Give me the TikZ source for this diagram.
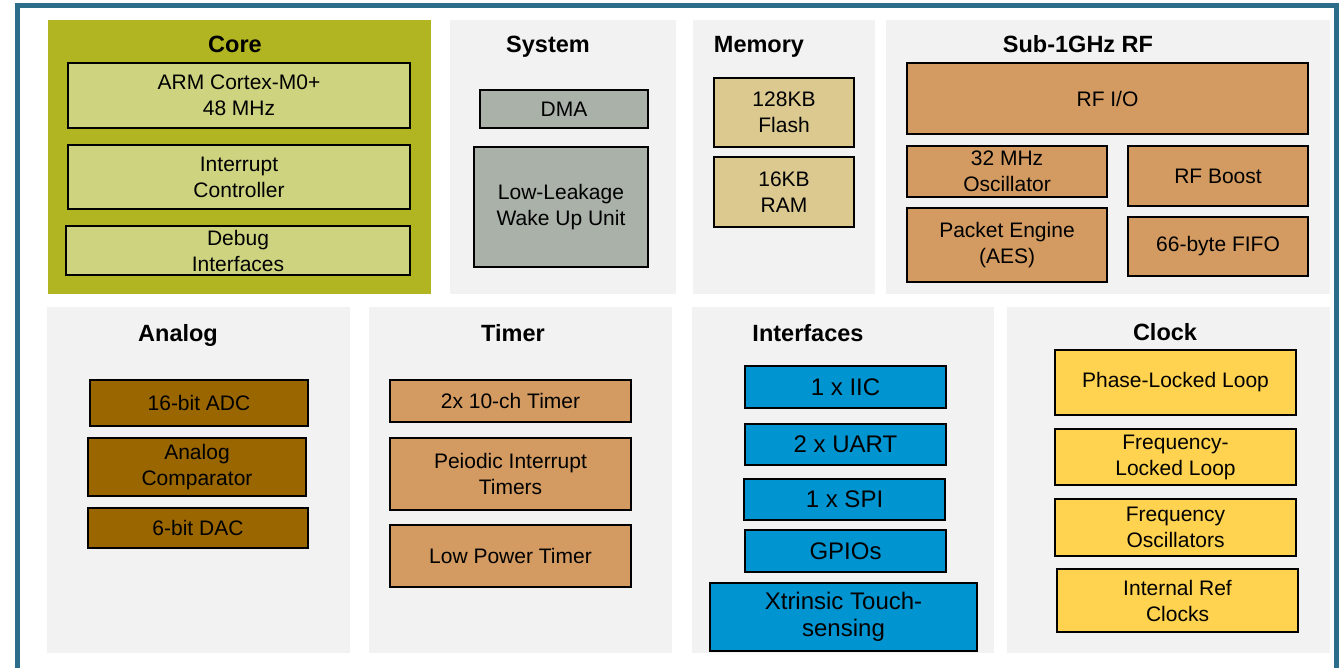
\documentclass[tikz,border=0pt]{standalone}
\usepackage{fontspec}
\setmainfont{Liberation Sans}
\usepackage{xcolor}
\usepackage{tikz}
\usetikzlibrary{positioning}
\definecolor{frameblue}{HTML}{2C6E89}
\definecolor{panelgray}{HTML}{F2F2F2}
\definecolor{coreolive}{HTML}{B1B521}
\definecolor{corelight}{HTML}{CDD37F}
\definecolor{sysgray}{HTML}{A9B1A9}
\definecolor{memtan}{HTML}{DBC98F}
\definecolor{rforange}{HTML}{D39B61}
\definecolor{anabrown}{HTML}{9A6600}
\definecolor{ifblue}{HTML}{0094D1}
\definecolor{clkyellow}{HTML}{FFD24F}
\tikzset{panel/.style={fill=panelgray,draw=none,inner sep=0pt},
  title/.style={font=\fontsize{23.5}{27}\selectfont\bfseries,inner sep=0pt,anchor=base},
  blk/.style={draw=black,line width=2pt,align=center,inner sep=0pt,
  font=\fontsize{21}{26}\selectfont},
  ifblk/.style={blk,fill=ifblue,font=\fontsize{24}{27.5}\selectfont},
  frame/.style={draw=frameblue,line width=5pt}}
\begin{document}
\begin{tikzpicture}[x=1pt,y=-1pt]
\useasboundingbox (0,0) rectangle (1340,668);
\draw[frame] (17.5,668) |- (1336,5.5) -- (1336,668);
% top row
\node[panel,fill=coreolive,minimum width=383,minimum height=274] (core) at (239.5,157) {};
\node[panel,minimum width=226,minimum height=274] (system) at (563,157) {};
\node[panel,minimum width=182,minimum height=274] (memory) at (784,157) {};
\node[panel,minimum width=444,minimum height=274] (rf) at (1108,157) {};
\node[title] (coret) at (235,53) {Core};
\node[title] (systemt) at (548,53) {System};
\node[title] (memoryt) at (759,53) {Memory};
\node[title] (rft) at (1078,53) {Sub-1GHz RF};
\node[blk,fill=corelight,minimum width=342,minimum height=65] (arm) at (239,95.5) {ARM Cortex-M0+\\48 MHz};
\node[blk,fill=corelight,minimum width=342,minimum height=64] (nvic) at (239,177) {Interrupt\\Controller};
\node[blk,fill=corelight,minimum width=344,minimum height=49] (debug) at (238,250.5) {Debug\\Interfaces};
\node[blk,fill=sysgray,minimum width=168,minimum height=38] (dma) at (564,109) {DMA};
\node[blk,fill=sysgray,minimum width=174,minimum height=120] (llwu) at (561,207) {Low-Leakage\\Wake Up Unit};
\node[blk,fill=memtan,minimum width=140,minimum height=69] (flash) at (784,112.5) {128KB\\Flash};
\node[blk,fill=memtan,minimum width=140,minimum height=70] (ram) at (784,192) {16KB\\RAM};
\node[blk,fill=rforange,minimum width=401,minimum height=71] (rfio) at (1107.5,98.5) {RF I/O};
\node[blk,fill=rforange,minimum width=200,minimum height=51] (xosc) at (1007,171.5) {32 MHz\\Oscillator};
\node[blk,fill=rforange,minimum width=180,minimum height=60] (boost) at (1218,176) {RF Boost};
\node[blk,fill=rforange,minimum width=200,minimum height=74] (packet) at (1007,245) {Packet Engine\\(AES)};
\node[blk,fill=rforange,minimum width=180,minimum height=59] (fifo) at (1218,246.5) {66-byte FIFO};
% bottom row
\node[panel,minimum width=303,minimum height=346] (analog) at (198.5,480) {};
\node[panel,minimum width=303,minimum height=346] (timer) at (520.5,480) {};
\node[panel,minimum width=302,minimum height=346] (iface) at (843,480) {};
\node[panel,minimum width=323,minimum height=346] (clock) at (1168.5,480) {};
\node[title] (analogt) at (178,341) {Analog};
\node[title] (timert) at (513,341) {Timer};
\node[title] (ifacet) at (808,341) {Interfaces};
\node[title] (clockt) at (1165,340) {Clock};
\node[blk,fill=anabrown,minimum width=218,minimum height=46] (adc) at (199,403) {16-bit ADC};
\node[blk,fill=anabrown,minimum width=218,minimum height=58] (cmp) at (197,467) {Analog\\Comparator};
\node[blk,fill=anabrown,minimum width=220,minimum height=40] (dac) at (198,528) {6-bit DAC};
\node[blk,fill=rforange,minimum width=241,minimum height=42] (tpm) at (510.5,401) {2x 10-ch Timer};
\node[blk,fill=rforange,minimum width=241,minimum height=72] (pit) at (510.5,474) {Peiodic Interrupt\\Timers};
\node[blk,fill=rforange,minimum width=241,minimum height=62] (lptmr) at (510.5,556) {Low Power Timer};
\node[ifblk,minimum width=201,minimum height=42] (iic) at (845.5,387) {1 x IIC};
\node[ifblk,minimum width=201,minimum height=41] (uart) at (845.5,444.5) {2 x UART};
\node[ifblk,minimum width=201,minimum height=41] (spi) at (844.5,499.5) {1 x SPI};
\node[ifblk,minimum width=201,minimum height=42] (gpio) at (845.5,551) {GPIOs};
\node[ifblk,minimum width=267,minimum height=68] (tsi) at (843.5,617) {Xtrinsic Touch-\\sensing};
\node[blk,fill=clkyellow,minimum width=241,minimum height=65] (pll) at (1175.5,382.5) {Phase-Locked Loop};
\node[blk,fill=clkyellow,minimum width=241,minimum height=56] (fll) at (1175.5,457) {Frequency-\\Locked Loop};
\node[blk,fill=clkyellow,minimum width=241,minimum height=57] (fosc) at (1175.5,527.5) {Frequency\\Oscillators};
\node[blk,fill=clkyellow,minimum width=241,minimum height=63] (iref) at (1177.5,600.5) {Internal Ref\\Clocks};
\end{tikzpicture}
\end{document}
